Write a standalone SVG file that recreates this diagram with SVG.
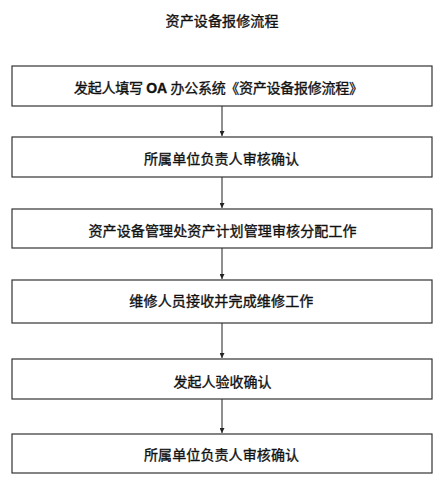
<svg xmlns="http://www.w3.org/2000/svg" width="442" height="488" viewBox="0 0 442 488">
<style>
.box{fill:#fff;stroke:#333;stroke-width:1.2}
.t{font-family:"Liberation Sans","Noto Sans CJK SC",sans-serif;font-size:14px;fill:#111;stroke:#111;stroke-width:0.35;text-anchor:middle}
.c{stroke:#333;stroke-width:1.1;fill:none;marker-end:url(#ah)}
</style>
<defs>
<marker id="ah" viewBox="0 0 10 10" refX="10" refY="5" markerWidth="5" markerHeight="5" markerUnits="userSpaceOnUse" orient="auto">
<path d="M0,0 L10,5 L0,10 z" fill="#222"/>
</marker>
</defs>
<rect width="442" height="488" fill="#fff"/>
<text class="t" x="222" y="26.3" textLength="113" lengthAdjust="spacing">资产设备报修流程</text>
<g id="connectors">
<line class="c" x1="222" y1="106" x2="222" y2="136"/>
<line class="c" x1="222" y1="177" x2="222" y2="208"/>
<line class="c" x1="222" y1="248" x2="222" y2="279"/>
<line class="c" x1="222" y1="323" x2="222" y2="358"/>
<line class="c" x1="222" y1="399" x2="222" y2="433"/>
</g>
<g id="n1"><rect class="box" x="12" y="66" width="420" height="40"/><text class="t" x="218.5" y="93.3" textLength="289" lengthAdjust="spacing">发起人填写 <tspan font-weight="bold">OA</tspan> 办公系统《资产设备报修流程》</text></g>
<g id="n2"><rect class="box" x="12" y="137" width="420" height="40"/><text class="t" x="221.5" y="163.6" textLength="155" lengthAdjust="spacing">所属单位负责人审核确认</text></g>
<g id="n3"><rect class="box" x="12" y="209" width="420" height="39"/><text class="t" x="222.5" y="236.3" textLength="268" lengthAdjust="spacing">资产设备管理处资产计划管理审核分配工作</text></g>
<g id="n4"><rect class="box" x="12" y="280" width="420" height="43"/><text class="t" x="221.3" y="306.3" textLength="184" lengthAdjust="spacing">维修人员接收并完成维修工作</text></g>
<g id="n5"><rect class="box" x="12" y="359" width="420" height="40"/><text class="t" x="222.5" y="387" textLength="98" lengthAdjust="spacing">发起人验收确认</text></g>
<g id="n6"><rect class="box" x="12" y="434" width="420" height="39"/><text class="t" x="221.5" y="459.8" textLength="155" lengthAdjust="spacing">所属单位负责人审核确认</text></g>
</svg>
